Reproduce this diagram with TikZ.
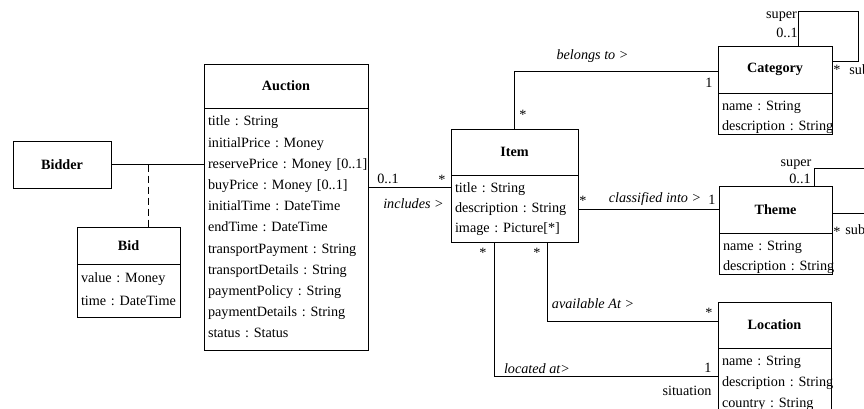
\documentclass[tikz,border=0pt]{standalone}
\usepackage{fontspec}
\setmainfont{Liberation Serif}
\usetikzlibrary{positioning}

\begin{document}
\frenchspacing
\begin{tikzpicture}[x=1pt,y=1pt,yscale=-1,line width=0.9pt,
  classhead/.style={draw, inner sep=0pt, font=\fontsize{14.2}{17}\selectfont\bfseries},
  classbody/.style={draw, align=left, inner xsep=4pt, inner ysep=4pt, text height=13pt, font=\fontsize{14.2}{20}\selectfont},
  lbl/.style={anchor=base, inner sep=0pt, font=\fontsize{14.2}{17}\selectfont},
  assoc/.style={lbl, font=\fontsize{14.2}{17}\selectfont\itshape}]

\useasboundingbox (0,0) rectangle (864,409);

% Classes
\node [classhead, minimum width=98pt, minimum height=47pt] (bidder) at (62,164.5) {Bidder};

\node [classhead, minimum width=164pt, minimum height=44pt] (auction) at (286,86) {Auction};
\node [classbody, below=0pt of auction, text width=156pt, text depth=221pt, font=\fontsize{14.2}{21.2}\selectfont] (auctionbody) {title : String\\ initialPrice : Money\\ \mbox{reservePrice : Money [0..1]}\\ buyPrice : Money [0..1]\\ initialTime : DateTime\\ endTime : DateTime\\ \mbox{transportPayment : String}\\ \mbox{transportDetails : String}\\ paymentPolicy : String\\ paymentDetails : String\\ status : Status};

\node [classhead, minimum width=103pt, minimum height=37pt] (bid) at (128.5,245.5) {Bid};
\node [classbody, below=0pt of bid, text width=95pt, text height=14pt, text depth=31pt, font=\fontsize{14.2}{23}\selectfont] (bidbody) {value : Money\\ \mbox{time : DateTime}};

\node [classhead, minimum width=127pt, minimum height=46pt] (item) at (514.5,152) {Item};
\node [classbody, below=0pt of item, text width=119pt, text depth=46pt] (itembody) {title : String\\ \mbox{description : String}\\ image : Picture[*]};

\node [classhead, minimum width=114pt, minimum height=47pt] (category) at (775,69.5) {Category};
\node [classbody, below=0pt of category, text width=106pt, text depth=20pt] (categorybody) {name : String\\ \mbox{description : String}};

\node [classhead, minimum width=113pt, minimum height=47pt] (theme) at (775.5,209.5) {Theme};
\node [classbody, below=0pt of theme, text width=105pt, text depth=20pt] (themebody) {name : String\\ \mbox{description : String}};

\node [classhead, minimum width=113pt, minimum height=46pt] (location) at (774.5,325) {Location};
\node [classbody, below=0pt of location, text width=105pt, text depth=61pt, font=\fontsize{14.2}{21}\selectfont] (locationbody) {name : String\\ \mbox{description : String}\\ country : String};

% Associations
\draw (bidder.east) -- (bidder.east -| auctionbody.west);
\coordinate (bidjoin) at ([xshift=37pt]bidder.east);
\draw [dash pattern=on 7pt off 4pt, line width=1.8pt] (bidjoin) -- (bidjoin |- bid.north);

\draw ([yshift=12pt]itembody.north west) -- ([yshift=12pt]itembody.north west -| auctionbody.east);
\draw (item.north) |- ([yshift=1.5pt]category.west);
\draw (itembody.east |- theme.west) -- (theme.west);
\draw ([xshift=33pt]itembody.south) |- ([yshift=-4pt]location.west);
\draw ([xshift=-20pt]itembody.south) |- ([yshift=28pt]locationbody.north west);

% Self associations
\draw ([xshift=-34pt]category.north east) -- ++(0,-34) -| ([xshift=26pt,yshift=16pt]category.north east) -- ([yshift=16pt]category.north east);
\draw ([xshift=-18pt]theme.north east) -- ++(0,-17) -| ([xshift=70pt,yshift=28pt]theme.north east) -- ([yshift=28pt]theme.north east);

% Text Node
\node [lbl] (incA) at (388,183) {0..1};
\node [lbl] (incB) at (442,184) {*};
\node [assoc] (incname) at (413.5,208) {includes >};

\node [lbl] (belA) at (523,120) {*};
\node [assoc] (belname) at (592.5,60) {belongs to >};
\node [lbl] (belB) at (709,88) {1};

\node [lbl] (catsuper) at (781.5,19) {super};
\node [lbl] (catsupA) at (787,38) {0..1};
\node [lbl] (catsubA) at (837,75) {*};
\node [lbl, anchor=base west] (catsub) at (849,75) {sub};

\node [lbl] (clsA) at (583,205) {*};
\node [assoc] (clsname) at (655,202) {classified into >};
\node [lbl] (clsB) at (712,204) {1};

\node [lbl] (thmsuper) at (796,166) {super};
\node [lbl] (thmsupA) at (800,183) {0..1};
\node [lbl] (thmsubA) at (837,236) {*};
\node [lbl, anchor=base west] (thmsub) at (845,234) {sub};

\node [lbl] (locA) at (483,257) {*};
\node [lbl] (avaA) at (537,257) {*};
\node [assoc] (avaname) at (593,308) {available At >};
\node [lbl] (avaB) at (709,317) {*};

\node [assoc] (locname) at (537,373) {located at>};
\node [lbl] (locB) at (708,372) {1};
\node [lbl] (locrole) at (687,395) {situation};

\end{tikzpicture}
\end{document}
